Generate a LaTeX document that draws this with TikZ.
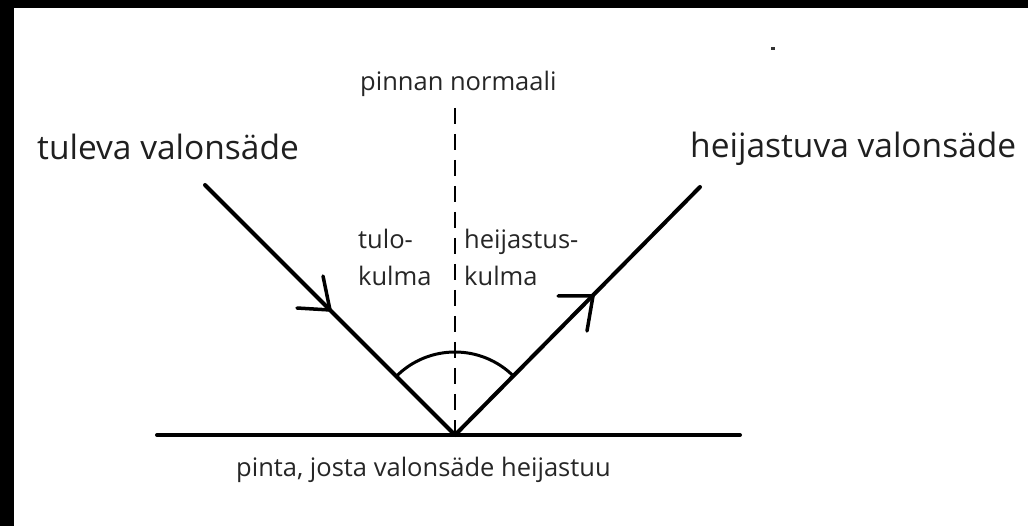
\documentclass[tikz,border=0pt]{standalone}
\usepackage{fontspec}
\setmainfont{Open Sans}
\usetikzlibrary{calc}
\begin{document}
\begin{tikzpicture}[x=1pt,y=-1pt,
  ray/.style={line width=4pt,line cap=round},
  tip/.style={line width=3.5pt,line cap=round},
  bigtxt/.style={anchor=base west,inner sep=0pt,text=black!88,font=\fontsize{33.5}{40}\selectfont},
  smalltxt/.style={anchor=base west,inner sep=0pt,text=black!85,font=\fontsize{25.5}{37}\selectfont},
  normal/.style={line width=1.6pt,dash pattern=on 16pt off 10pt}]
\useasboundingbox (0,0) rectangle (1028,526);
\fill[white] (0,0) rectangle (1028,526);
\fill[black] (0,0) rectangle (14,526);
\fill[black] (0,0) rectangle (1028,8);
% key points
\coordinate (O) at (455,435);
\coordinate (A) at (205,185);
\coordinate (B) at (700,187);
\coordinate (L) at (157,435);
\coordinate (R) at (740,435);
\coordinate (N) at (455,108);
\coordinate (T1) at (330,310);
\coordinate (T1a) at (323,276);
\coordinate (T1b) at (297,308);
\coordinate (T2) at (593,296);
\coordinate (T2a) at (558,296);
\coordinate (T2b) at (587,331);
% lines
\draw[ray] (L) -- (R);
\draw[normal] (N) -- (O);
\draw[ray] (A) -- (O);
\draw[ray] (O) -- (B);
\draw[tip] (T1a) -- (T1) -- (T1b);
\draw[tip] (T2a) -- (T2) -- (T2b);
\draw[line width=3pt] ($(O)+(225:83)$) arc[start angle=225,end angle=315,radius=83];
\fill[black!80] (771,47) rectangle (775,50);
% texts
\node[bigtxt] (tin) at (37,160) {tuleva valonsäde};
\node[bigtxt] (tout) at (690,158) {heijastuva valonsäde};
\node[smalltxt] (nl) at (360,91) {pinnan normaali};
\node[smalltxt,align=left,anchor=base west] (tk) at (358,286) {tulo-\\kulma};
\node[smalltxt,align=left,anchor=base west] (hk) at (464,286) {heijastus-\\kulma};
\node[smalltxt] (sf) at (236,476) {pinta, josta valonsäde heijastuu};
\end{tikzpicture}
\end{document}
